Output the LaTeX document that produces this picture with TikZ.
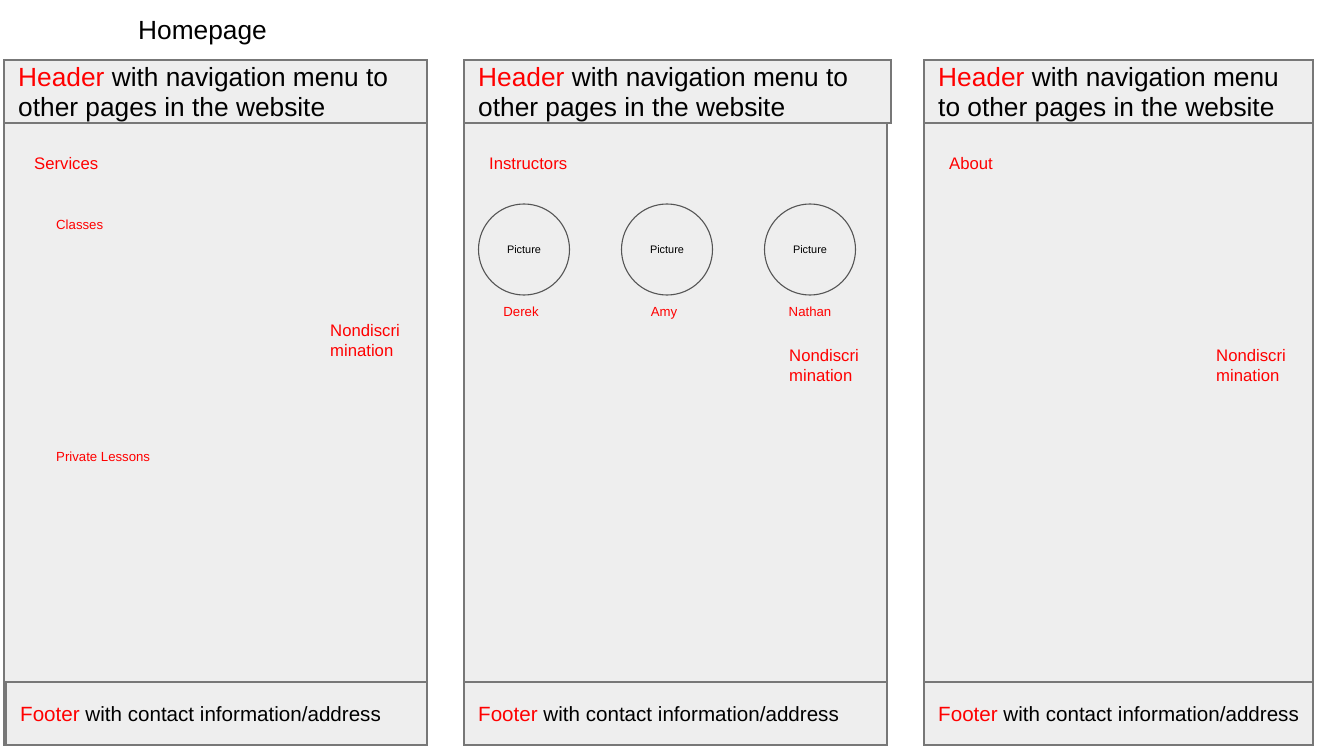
\documentclass[tikz,border=0pt]{standalone}
\usepackage{fontspec}
\setmainfont{Liberation Sans}
\definecolor{boxfill}{HTML}{EEEEEE}
\definecolor{boxline}{HTML}{777777}
\definecolor{circline}{HTML}{555555}
\definecolor{redtxt}{HTML}{FF0000}
\begin{document}
\begin{tikzpicture}[x=1pt,y=-1pt,
  panel/.style={draw=boxline,fill=boxfill,line width=1.6pt},
  bigtxt/.style={anchor=base west,inner sep=0pt,font=\fontsize{26.3}{31}\selectfont},
  foottxt/.style={anchor=base west,inner sep=0pt,font=\fontsize{20.6}{24}\selectfont},
  sectxt/.style={anchor=base west,inner sep=0pt,text=redtxt,font=\fontsize{16.7}{20}\selectfont},
  subtxt/.style={anchor=base west,inner sep=0pt,text=redtxt,font=\fontsize{13.2}{16}\selectfont},
  nametxt/.style={anchor=base,inner sep=0pt,text=redtxt,font=\fontsize{13.2}{16}\selectfont},
  picnode/.style={circle,draw=circline,line width=1.1pt,minimum size=91pt,inner sep=0pt,font=\fontsize{10.9}{13}\selectfont}
]
\useasboundingbox (0,0) rectangle (1328,746);
% Panel 1
\draw[panel] (4,123) rectangle (427,745);
\draw[panel] (4,60) rectangle (427,123);
\draw[panel] (6,682) rectangle (427,745);
% Panel 2
\draw[panel] (464,123) rectangle (887,745);
\draw[panel] (464,60) rectangle (891,123);
\draw[panel] (464,682) rectangle (887,745);
% Panel 3
\draw[panel] (924,123) rectangle (1313,745);
\draw[panel] (924,60) rectangle (1313,123);
\draw[panel] (924,682) rectangle (1313,745);

\node[bigtxt] (title) at (138,40) {Homepage};

% headers
\node[bigtxt] (h1a) at (18,87) {\textcolor{redtxt}{Header} with navigation menu to};
\node[bigtxt] (h1b) at (18,117) {other pages in the website};
\node[bigtxt] (h2a) at (478,87) {\textcolor{redtxt}{Header} with navigation menu to};
\node[bigtxt] (h2b) at (478,117) {other pages in the website};
\node[bigtxt] (h3a) at (938,87) {\textcolor{redtxt}{Header} with navigation menu};
\node[bigtxt] (h3b) at (938,117) {to other pages in the website};

% footers
\node[foottxt] (f1) at (20,721.5) {\textcolor{redtxt}{Footer} with contact information/address};
\node[foottxt] (f2) at (478,721.5) {\textcolor{redtxt}{Footer} with contact information/address};
\node[foottxt] (f3) at (938,721.5) {\textcolor{redtxt}{Footer} with contact information/address};

% panel 1 content
\node[sectxt] (services) at (34,169.5) {Services};
\node[subtxt] (classes) at (56,229.5) {Classes};
\node[subtxt] (private) at (56,461) {Private Lessons};
\node[sectxt] (nd1a) at (330,336.5) {Nondiscri};
\node[sectxt] (nd1b) at (330,356.5) {mination};

% panel 2 content
\node[sectxt] (instructors) at (489,169.5) {Instructors};
\node[picnode] (p1) at (524,249.5) {Picture};
\node[picnode] (p2) at (667,249.5) {Picture};
\node[picnode] (p3) at (810,249.5) {Picture};
\node[nametxt] (derek) at (521,316) {Derek};
\node[nametxt] (amy) at (664,316) {Amy};
\node[nametxt] (nathan) at (810,316) {Nathan};
\node[sectxt] (nd2a) at (789,361.5) {Nondiscri};
\node[sectxt] (nd2b) at (789,381.5) {mination};

% panel 3 content
\node[sectxt] (about) at (949,169.5) {About};
\node[sectxt] (nd3a) at (1216,361.5) {Nondiscri};
\node[sectxt] (nd3b) at (1216,381.5) {mination};
\end{tikzpicture}
\end{document}
